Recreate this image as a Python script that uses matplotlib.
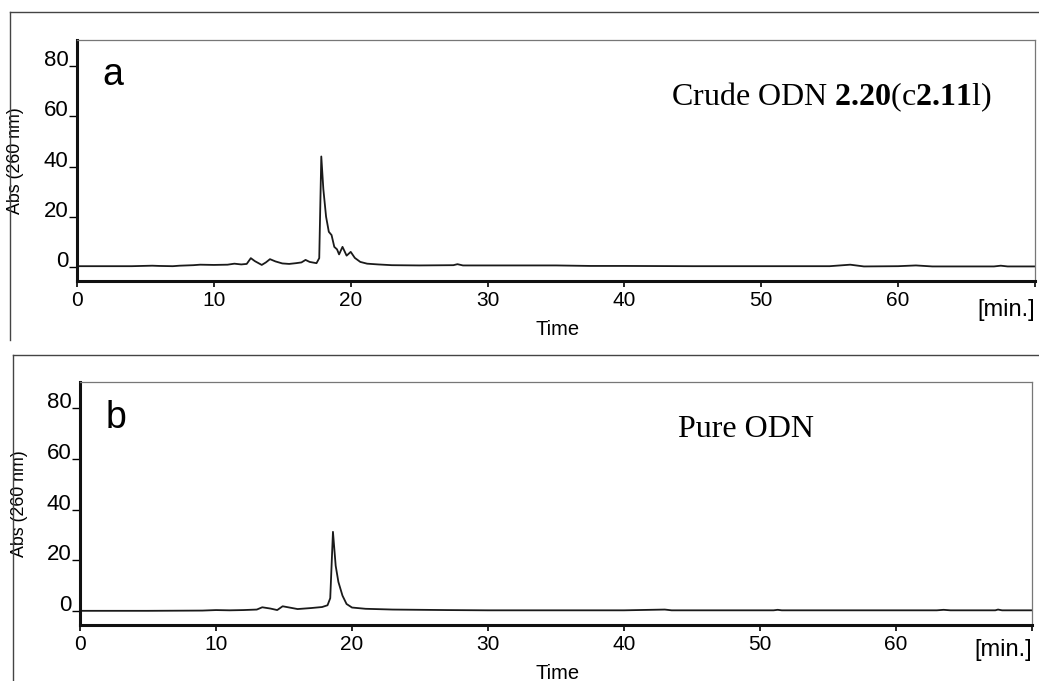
import matplotlib
matplotlib.use('Agg')
import matplotlib.pyplot as plt
from matplotlib.lines import Line2D

# chromatogram a (crude)
time_a = [0, 2, 4, 5.5, 6, 7, 7.5, 8.5, 9, 10, 11, 11.5, 12, 12.4, 12.7, 13.0, 13.5, 13.8,
          14.1, 14.5, 15, 15.5, 16, 16.4, 16.7, 17.0, 17.5, 17.7, 17.85, 18.0, 18.2, 18.4,
          18.6, 18.8, 19.0, 19.15, 19.4, 19.7, 19.8, 20.0, 20.3, 20.7, 21.2, 22, 23, 25,
          27.5, 27.8, 28.2, 30, 35, 37.5, 40, 45, 55, 56.5, 57.5, 60, 61.3, 62.5, 67, 67.5,
          68, 70]
abs_a = [0.3, 0.3, 0.3, 0.5, 0.4, 0.3, 0.5, 0.7, 0.9, 0.8, 0.9, 1.3, 1.0, 1.2, 3.5, 2.3, 0.8, 1.8,
         3.1, 2.2, 1.4, 1.2, 1.5, 1.8, 2.8, 2.0, 1.5, 3.5, 44, 31, 20, 14,
         12.7, 8, 7, 5, 8, 4.5, 5, 6, 3.6, 2, 1.3, 1.0, 0.7, 0.6,
         0.7, 1.1, 0.6, 0.6, 0.6, 0.4, 0.4, 0.3, 0.3, 0.9, 0.2, 0.3, 0.6, 0.2, 0.2, 0.5,
         0.2, 0.2]

# chromatogram b (pure)
time_b = [0, 5, 9, 10, 11, 12, 13, 13.4, 14, 14.5, 14.9, 15.5, 16, 17, 17.8, 18.2, 18.4, 18.6,
          18.8, 19.0, 19.3, 19.6, 20, 21, 23, 25, 27, 30, 40, 43, 43.5, 51, 51.3, 51.6,
          63, 63.5, 64, 67.3, 67.5, 67.8, 70]
abs_b = [0, 0, 0.1, 0.3, 0.2, 0.3, 0.5, 1.4, 0.9, 0.3, 1.8, 1.2, 0.7, 1.1, 1.5, 2.2, 5, 31.2,
         17.8, 11.4, 6, 2.7, 1.3, 0.8, 0.5, 0.4, 0.3, 0.2, 0.2, 0.5, 0.2, 0.2, 0.4, 0.2,
         0.2, 0.4, 0.2, 0.2, 0.5, 0.2, 0.2]

x_ticks = [0, 10, 20, 30, 40, 50, 60, 70]
x_tick_labels = ['0', '10', '20', '30', '40', '50', '60', '']
y_ticks = [0, 20, 40, 60, 80]

plt.rcParams['font.family'] = ['Liberation Sans', 'DejaVu Sans']
plt.rcParams['mathtext.fontset'] = 'custom'
plt.rcParams['mathtext.rm'] = 'Liberation Serif'
plt.rcParams['mathtext.bf'] = 'Liberation Serif:bold'

fig = plt.figure(figsize=(10.39, 6.81), dpi=100)
W, H = 1039, 681


def frame(x0, y0, y1):
    # the thin outer box round each panel (top and left edge only)
    fig.add_artist(Line2D([x0 / W, 1], [1 - y0 / H] * 2, transform=fig.transFigure, color='#444444', lw=1))
    fig.add_artist(Line2D([x0 / W] * 2, [1 - y0 / H, 1 - y1 / H], transform=fig.transFigure, color='#444444', lw=1))


def panel(rect, t, a, letter, title, title_xy, letter_xy, minlab_y, time_y):
    ax = fig.add_axes(rect)
    ax.plot(t, a, color='#1a1a1a', lw=1.3)
    ax.set_xlim(0, 70)
    ax.set_ylim(-5.6, 90.4)
    ax.set_xticks(x_ticks)
    ax.set_xticklabels(x_tick_labels)
    ax.set_yticks(y_ticks)
    ax.tick_params(axis='x', direction='out', length=4, width=1.2, labelsize=15, pad=3)
    ax.tick_params(axis='y', direction='out', length=6, width=1, labelsize=16, pad=0)
    for lab in ax.get_yticklabels():
        lab.set_va('baseline')
    for side in ['left', 'bottom']:
        ax.spines[side].set_linewidth(2.2)
        ax.spines[side].set_color('#111111')
    for side in ['top', 'right']:
        ax.spines[side].set_linewidth(0.9)
        ax.spines[side].set_color('#777777')
    ax.set_ylabel('Abs (260 nm)', fontsize=12.8)
    ax.yaxis.set_label_coords(-0.055, 0.5)
    ax.text(letter_xy[0], letter_xy[1], letter, transform=ax.transAxes, fontsize=27,
            va='baseline', ha='left')
    ax.text(title_xy[0], title_xy[1], title, transform=ax.transAxes, fontsize=23,
            va='baseline', ha='left', family='Liberation Serif')
    ax.text(1.0, minlab_y, '[min.]', transform=ax.transAxes, fontsize=17, va='center', ha='right')
    ax.text(0.502, time_y, 'Time', transform=ax.transAxes, fontsize=14.5, va='center', ha='center')
    return ax


frame(10, 12, 340)
frame(13, 355, 681)

panel([77 / W, 1 - 281 / H, 958 / W, 241 / H], time_a, abs_a, 'a',
      r'Crude ODN $\mathbf{2.20}$(c$\mathbf{2.11}$l)', (0.62, 0.73), (0.027, 0.813), -0.12, -0.203)
panel([80 / W, 1 - 625 / H, 952 / W, 243 / H], time_b, abs_b, 'b',
      'Pure ODN', (0.628, 0.774), (0.027, 0.81), -0.103, -0.198)

fig.savefig('out.png', dpi=100)
